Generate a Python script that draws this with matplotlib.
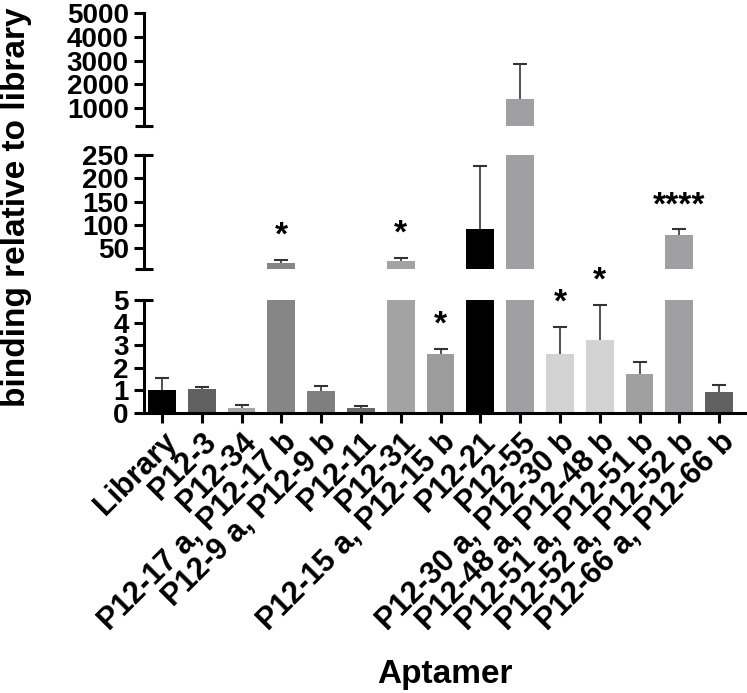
import matplotlib
matplotlib.use("Agg")
import matplotlib.pyplot as plt
import numpy as np

plt.rcParams['font.family'] = ['Liberation Sans', 'DejaVu Sans']
plt.rcParams['font.weight'] = 'bold'

# data
labels = ["Library", "P12-3", "P12-34", "P12-17 a, P12-17 b", "P12-9 a, P12-9 b",
          "P12-11", "P12-31", "P12-15 a, P12-15 b", "P12-21", "P12-55",
          "P12-30 a, P12-30 b", "P12-48 a, P12-48 b", "P12-51 a, P12-51 b",
          "P12-52 a, P12-52 b", "P12-66 a, P12-66 b"]
means = [1.0, 1.06, 0.22, 18, 0.99, 0.22, 22, 2.61, 90, 1380, 2.6, 3.23, 1.71, 77, 0.92]
errs = [0.55, 0.10, 0.15, 6, 0.22, 0.09, 7, 0.22, 136, 1460, 1.2, 1.54, 0.55, 13, 0.33]
stars = ["", "", "", "*", "", "", "*", "*", "", "", "*", "*", "", "****", ""]
colors = ["#000000", "#606060", "#a6a6a6", "#868686", "#7f7f7f", "#6a6a6a", "#a3a3a3",
          "#9c9c9c", "#000000", "#a0a0a3", "#d3d3d3", "#d3d3d3", "#a0a0a3", "#a0a0a3",
          "#606060"]

# broken y axis: (low, high, ticks)
segments = [
    (250, 5000, [1000, 2000, 3000, 4000, 5000]),
    (5, 250, [50, 100, 150, 200, 250]),
    (0, 5, [0, 1, 2, 3, 4, 5]),
]

W, H = 747, 693
fig = plt.figure(figsize=(W / 100, H / 100), dpi=100)

left = 144 / W
width = (747 - 144) / W
boxes = [(13, 126), (155, 269), (300, 413)]  # pixel top/bottom of each segment

x = np.arange(len(labels))
means_a = np.array(means, dtype=float)
tops = means_a + np.array(errs, dtype=float)

axes = []
for (lo, hi, ticks), (ptop, pbot) in zip(segments, boxes):
    ax = fig.add_axes([left, 1 - pbot / H, width, (pbot - ptop) / H])
    ax.bar(x, means, width=0.7, color=colors, edgecolor='none')
    # upper error bars only (GraphPad style)
    ax.vlines(x, means_a, tops, color='#333333', linewidth=1.2)
    inside = (tops >= lo) & (tops <= hi)
    ax.plot(x[inside], tops[inside], linestyle='none', marker='_', markersize=9.4,
            markeredgewidth=1.5, color='#333333')
    ax.set_ylim(lo, hi)
    ax.set_xlim(-0.45, 14.7)
    ax.set_yticks(ticks)
    ax.tick_params(axis='y', direction='out', length=7, width=2.2, labelsize=20, pad=4)
    for s in ['top', 'right']:
        ax.spines[s].set_visible(False)
    ax.spines['left'].set_linewidth(2.2)
    for t in ax.get_yticklabels():
        t.set_fontweight('bold')
    axes.append(ax)

ax_top, ax_mid, ax_bot = axes

for ax in (ax_top, ax_mid):
    ax.spines['bottom'].set_visible(False)
    ax.set_xticks([])

# break caps across the spine
cap_kw = dict(marker='_', markersize=13, markeredgewidth=2.2, color='black',
              clip_on=False)
ax_top.plot([0], [0], transform=ax_top.transAxes, **cap_kw)
ax_mid.plot([0, 0], [0, 1], transform=ax_mid.transAxes, linestyle='none', **cap_kw)
ax_bot.plot([0], [1], transform=ax_bot.transAxes, **cap_kw)

ax_bot.spines['bottom'].set_linewidth(2.2)
ax_bot.set_xticks(x)
ax_bot.set_xticklabels(labels, rotation=45, ha='right', va='top',
                       rotation_mode='anchor', fontsize=22, fontweight='bold')
ax_bot.tick_params(axis='x', direction='out', length=7, width=2.2, pad=3)

# significance stars above the error bars
for i, s in enumerate(stars):
    if not s:
        continue
    top = tops[i]
    ax = ax_bot if top <= 5 else (ax_mid if top <= 250 else ax_top)
    ax.annotate(s, xy=(i, top), xytext=(0, 6), textcoords='offset points',
                ha='center', va='bottom', fontsize=24, fontweight='bold',
                annotation_clip=False)

fig.text(17 / W, 1 - 207 / H, "binding relative to library", rotation=90,
         ha='center', va='center', fontsize=24, fontweight='bold')
fig.text(445 / W, 1 - 675 / H, "Aptamer", ha='center', va='center',
         fontsize=24, fontweight='bold')

fig.savefig("out.png", dpi=100)
